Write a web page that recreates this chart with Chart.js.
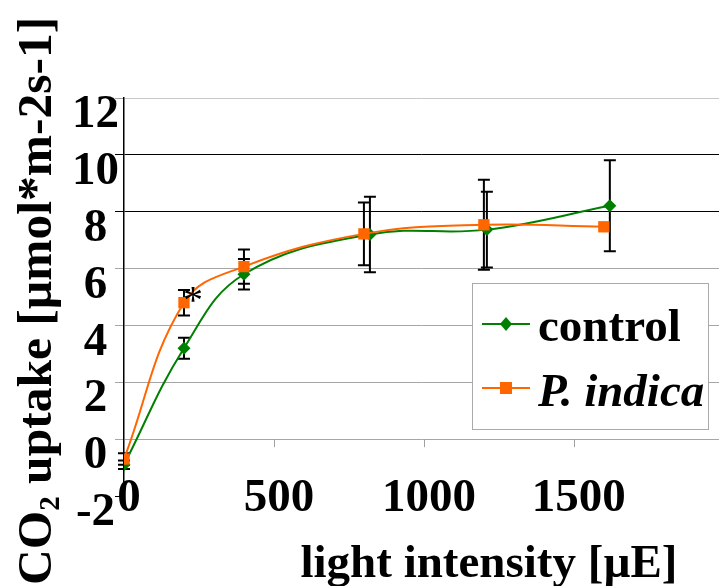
<!DOCTYPE html>
<html><head><meta charset="utf-8">
<script src="https://cdn.jsdelivr.net/npm/chart.js@4/dist/chart.umd.min.js"></script>
<style>html,body{margin:0;padding:0;background:#fff;overflow:hidden}canvas{display:block}</style>
</head><body>
<canvas id="c" width="727" height="586"></canvas>
<script>
// ---- data ----
const lightControl = [0, 200, 400, 820, 1210, 1620];
const lightIndica  = [0, 200, 400, 800, 1200, 1600];
const controlUptake = [-0.9, 3.2, 5.8, 7.2, 7.37, 8.21];
const indicaUptake  = [-0.7, 4.8, 6.07, 7.22, 7.54, 7.47];
const controlErr = [0.15, 0.37, 0.54, 1.33, 1.33, 1.6];
const indicaErr  = [0.2, 0.45, 0.6, 1.1, 1.58, 0];
const xTicks = [0, 500, 1000, 1500];
const yTicks = [-2, 0, 2, 4, 6, 8, 10, 12];
const seriesNames = ['control', 'P. indica'];
const yTitleParts = ['CO', '2', ' uptake [µmol*m-2s-1]'];
const xTitle = 'light intensity [µE]';
const significanceMark = '*';
const significantIndex = 1;

const FAM = "'Liberation Serif','Times New Roman',serif";
const GREEN = '#008000', ORANGE = '#FF6600';

function pts(xs, ys){ return xs.map((x,i)=>({x, y: ys[i]})); }

const errorBars = {
  id: 'errorBars',
  beforeDatasetsDraw(chart){
    const ctx = chart.ctx, xs = chart.scales.x, ys = chart.scales.y;
    ctx.save();
    ctx.strokeStyle = '#000'; ctx.lineWidth = 2;
    chart.data.datasets.forEach(ds=>{
      ds.data.forEach((p,i)=>{
        const e = ds.errors[i]; if(!e) return;
        const px = xs.getPixelForValue(p.x);
        const t = ys.getPixelForValue(p.y+e), b = ys.getPixelForValue(p.y-e);
        ctx.beginPath();
        ctx.moveTo(px,t); ctx.lineTo(px,b);
        ctx.moveTo(px-6,t); ctx.lineTo(px+6,t);
        ctx.moveTo(px-6,b); ctx.lineTo(px+6,b);
        ctx.stroke();
      });
    });
    // small x tick marks on the zero line
    const y0 = ys.getPixelForValue(0);
    ctx.strokeStyle = '#a0a0a0'; ctx.lineWidth = 1;
    xTicks.forEach(v=>{ if(v===0) return; const px = Math.round(xs.getPixelForValue(v))+0.5;
      ctx.beginPath(); ctx.moveTo(px,y0); ctx.lineTo(px,y0+8); ctx.stroke(); });
    ctx.restore();
  }
};

const decorations = {
  id: 'decorations',
  afterDatasetsDraw(chart){
    const ctx = chart.ctx, xs = chart.scales.x, ys = chart.scales.y;
    ctx.save();
    // asterisk next to significant point
    const ind = chart.data.datasets.find(d=>d.label===seriesNames[1]);
    const p = ind.data[significantIndex];
    ctx.fillStyle = '#000';
    ctx.font = '40px ' + FAM; ctx.textAlign = 'center'; ctx.textBaseline = 'alphabetic';
    ctx.fillText(significanceMark, xs.getPixelForValue(p.x)+9, ys.getPixelForValue(p.y)+10);
    // legend
    const L = 472, T = 283, W = 236, H = 146;
    ctx.fillStyle = '#fff'; ctx.fillRect(L, T, W, H);
    ctx.strokeStyle = '#aaaaaa'; ctx.lineWidth = 1; ctx.strokeRect(L+0.5, T+0.5, W, H);
    const rows = [
      {y: 324, color: GREEN, shape: 'diamond', font: 'bold 47px '+FAM, text: seriesNames[0], base: 341},
      {y: 388, color: ORANGE, shape: 'square', font: 'italic bold 47px '+FAM, text: seriesNames[1], base: 406}
    ];
    rows.forEach(r=>{
      ctx.strokeStyle = r.color; ctx.lineWidth = 2;
      ctx.beginPath(); ctx.moveTo(482, r.y); ctx.lineTo(530, r.y); ctx.stroke();
      ctx.fillStyle = r.color; ctx.beginPath();
      if (r.shape==='diamond'){ ctx.moveTo(506, r.y-7); ctx.lineTo(512, r.y); ctx.lineTo(506, r.y+7); ctx.lineTo(500, r.y); ctx.closePath(); }
      else { ctx.rect(500, r.y-6, 12, 12); }
      ctx.fill();
      ctx.fillStyle = '#000'; ctx.font = r.font; ctx.textAlign = 'left'; ctx.textBaseline='alphabetic';
      ctx.fillText(r.text, 538, r.base);
    });
    ctx.restore();
  },
  afterDraw(chart){
    const ctx = chart.ctx, xs = chart.scales.x;
    // x tick labels (drawn over the bottom of the plot, as in the reference)
    ctx.save();
    ctx.fillStyle = '#000'; ctx.font = 'bold 47px ' + FAM; ctx.textAlign = 'center'; ctx.textBaseline = 'alphabetic';
    xTicks.forEach(v => ctx.fillText(String(v), xs.getPixelForValue(v) + 5, 511));
    ctx.restore();
    ctx.save();
    ctx.fillStyle = '#000';
    // y title (rotated, with subscript)
    ctx.translate(51, 585); ctx.rotate(-Math.PI/2);
    ctx.textAlign = 'left'; ctx.textBaseline = 'alphabetic';
    let x = 0;
    ctx.font = 'bold 49.5px ' + FAM; ctx.fillText(yTitleParts[0], x, 0); x += ctx.measureText(yTitleParts[0]).width;
    ctx.font = 'bold 29px ' + FAM; ctx.fillText(yTitleParts[1], x, 8); x += ctx.measureText(yTitleParts[1]).width;
    ctx.font = 'bold 49.5px ' + FAM; ctx.fillText(yTitleParts[2], x, 0);
    ctx.restore();
    ctx.save();
    ctx.fillStyle = '#000'; ctx.font = 'bold 47px ' + FAM; ctx.textAlign = 'center'; ctx.textBaseline = 'alphabetic';
    ctx.fillText(xTitle, 489, 577);
    ctx.restore();
  }
};

function gridCol(v){
  if (v === -2) return 'rgba(0,0,0,0)';
  if (v === 8 || v === 10) return '#000000';
  if (v === 12) return '#c8c8c8';
  return '#a6a6a6';
}
function tickCol(v){
  if (v === 8 || v === 10 || v === -2) return '#000000';
  return '#a6a6a6';
}

new Chart(document.getElementById('c'), {
  type: 'line',
  data: {
    datasets: [
      { label: seriesNames[0], data: pts(lightControl, controlUptake), errors: controlErr,
        borderColor: GREEN, backgroundColor: GREEN, borderWidth: 2, tension: 0.4,
        pointStyle: 'rectRot', pointRadius: 6.5, pointBorderWidth: 0, order: 1 },
      { label: seriesNames[1], data: pts(lightIndica, indicaUptake), errors: indicaErr,
        borderColor: ORANGE, backgroundColor: ORANGE, borderWidth: 2, tension: 0.4,
        pointStyle: 'rect', pointRadius: 8, pointBorderWidth: 0, order: 0 }
    ]
  },
  options: {
    responsive: false, animation: false, devicePixelRatio: 1,
    layout: { padding: { top: 98, left: 0, right: 0, bottom: 0 } },
    plugins: { legend: { display: false }, tooltip: { enabled: false } },
    scales: {
      x: {
        type: 'linear', min: 0, max: 1984,
        afterBuildTicks: s => { s.ticks = xTicks.map(v => ({ value: v })); },
        afterFit: s => { s.height = 90; },
        grid: { display: false, drawTicks: false },
        border: { display: false },
        ticks: { display: false }
      },
      y: {
        min: -2, max: 12,
        afterBuildTicks: s => { s.ticks = yTicks.map(v => ({ value: v })); },
        afterFit: s => { s.width = 124; },
        border: { display: true, color: '#000', width: 1.5 },
        grid: { color: c => gridCol(c.tick.value), tickColor: c => tickCol(c.tick.value), lineWidth: 1, tickLength: 9, drawTicks: true },
        ticks: { font: { family: FAM, size: 47, weight: 'bold' }, color: '#000', crossAlign: 'center', padding: -4, labelOffset: 17, autoSkip: false }
      }
    }
  },
  plugins: [errorBars, decorations]
});
</script>
</body></html>
